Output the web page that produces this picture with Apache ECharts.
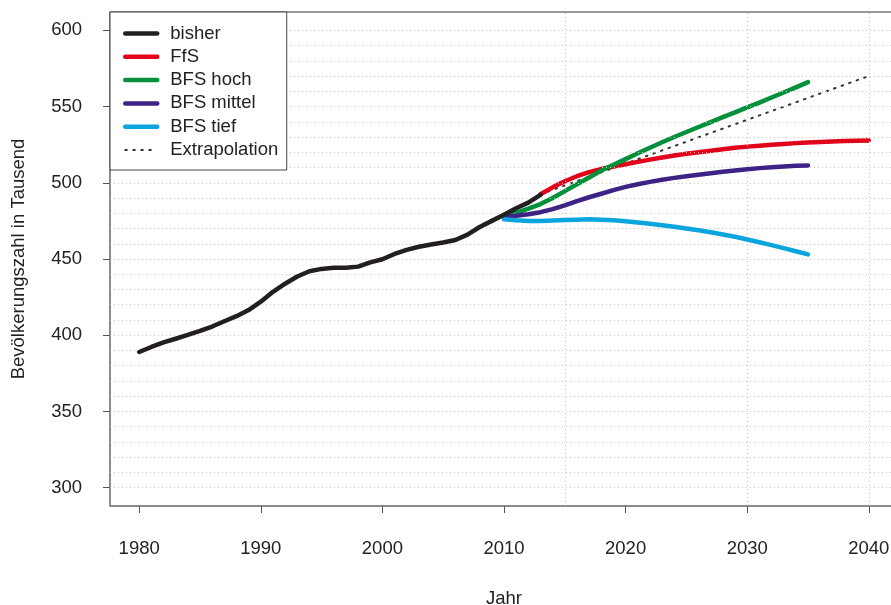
<!DOCTYPE html>
<html><head><meta charset="utf-8">
<script src="https://cdn.jsdelivr.net/npm/echarts@6/dist/echarts.min.js"></script>
<style>html,body{margin:0;padding:0;background:#fff}#c{width:891px;height:605px}</style>
</head><body><div id="c"></div>
<script>
// ---- data ----
const bisherYears = [1980,1981,1982,1983,1984,1985,1986,1987,1988,1989,1990,1991,1992,1993,1994,1995,1996,1997,1998,1999,2000,2001,2002,2003,2004,2005,2006,2007,2008,2009,2010,2011,2012,2013];
const bisherValues = [389,392.3,395.3,397.7,400.2,402.8,405.7,409.2,412.5,416.5,422,428.5,433.8,438.5,442,443.5,444.2,444.3,445,447.8,449.8,453.3,456,458,459.5,460.8,462.5,466,471,475,479,483.3,487,492];

const ffsYears = [2013,2014,2015,2016,2017,2018,2019,2020,2021,2022,2023,2024,2025,2026,2027,2028,2029,2030,2031,2032,2033,2034,2035,2036,2037,2038,2039,2040];
const ffsValues = [492.5,497,501,504.3,507,509,510.7,512.2,513.7,515.2,516.6,517.9,519,520,521,522,523,523.7,524.3,525,525.5,526,526.4,526.8,527.1,527.4,527.6,527.8];

const bfsYears = [2010,2011,2012,2013,2014,2015,2016,2017,2018,2019,2020,2021,2022,2023,2024,2025,2026,2027,2028,2029,2030,2031,2032,2033,2034,2035];
const hochValues = [478,480.3,483,486,490,494.5,499,503.5,508,511.8,515.5,519.3,523,526.6,530,533.3,536.6,539.8,543,546.2,549.4,552.6,555.9,559.2,562.6,566];
const mittelValues = [477.5,478.3,479.3,480.7,482.7,485.2,488,490.5,492.8,495.2,497.3,499,500.6,502,503.2,504.3,505.3,506.3,507.2,508.1,508.9,509.6,510.2,510.7,511.1,511.4];
const tiefValues = [476,475.4,475,475,475.2,475.5,475.8,476,475.8,475.4,474.8,474,473.1,472.1,471.1,470,468.8,467.5,466.1,464.6,462.8,461,459.1,457.1,455.1,453];

const extraYears = [2013,2040];
const extraValues = [492.5,570];

const xTickLabels = [1980,1990,2000,2010,2020,2030,2040];
const yTickLabels = [300,350,400,450,500,550,600];
const yGridValues = [300,310,320,330,340,350,360,370,380,390,400,410,420,430,440,450,460,470,480,490,500,510,520,530,540,550,560,570,580,590,600];
const xGridValues = [2015,2030,2040];

const names = ['bisher','FfS','BFS hoch','BFS mittel','BFS tief','Extrapolation'];
const colors = {bisher:'#231f20', FfS:'#e2001a', 'BFS hoch':'#00913a', 'BFS mittel':'#3e2286', 'BFS tief':'#0ba5de', Extrapolation:'#333333'};

function pairs(xs, ys){ return xs.map((x,i)=>[x, ys[i]]); }

const FONT = '"Liberation Sans", Arial, sans-serif';
const chart = echarts.init(document.getElementById('c'), null, {renderer:'canvas'});

function lineSeries(name, data, z){
  return {
    name, type:'line', data, showSymbol:false, symbol:'none', smooth:false, z,
    lineStyle:{color:colors[name], width:4.5, cap:'round', join:'round'},
    itemStyle:{color:colors[name]}, emphasis:{disabled:true}, animation:false
  };
}

const option = {
  animation:false,
  backgroundColor:'#ffffff',
  textStyle:{fontFamily:FONT},
  grid:{left:110, top:12, width:788, height:494, show:true, borderColor:'#333', borderWidth:1,
        backgroundColor:'transparent', containLabel:false, outerBoundsMode:'none'},
  xAxis:{
    type:'value', min:1977.6, max:2042.4,
    name:'Jahr', nameLocation:'middle', nameGap:83,
    nameTextStyle:{fontSize:18.5, color:'#222', fontFamily:FONT},
    axisLine:{show:true, lineStyle:{color:'#888', width:1.5}},
    axisTick:{show:true, length:7, customValues:xTickLabels, lineStyle:{color:'#555', width:1}},
    axisLabel:{customValues:xTickLabels, fontSize:18.5, color:'#222', margin:33, fontFamily:FONT,
               formatter:(v)=>String(v)},
    splitLine:{show:false}
  },
  yAxis:{
    type:'value', min:288, max:612,
    name:'Bevölkerungszahl in Tausend', nameLocation:'middle', nameGap:82,
    nameTextStyle:{fontSize:18.5, color:'#222', fontFamily:FONT},
    axisLine:{show:true, lineStyle:{color:'#888', width:1.5}},
    axisTick:{show:true, length:7, customValues:yTickLabels, lineStyle:{color:'#555', width:1}},
    axisLabel:{customValues:yTickLabels, fontSize:18.5, color:'#222', margin:28, fontFamily:FONT,
               padding:[5,0,0,0], formatter:(v)=>String(v)},
    splitLine:{show:false}
  },
  legend:{
    orient:'vertical', left:110, top:12,
    backgroundColor:'#ffffff', borderColor:'#444', borderWidth:1, borderRadius:0,
    padding:[11.5,8.5,10,13],
    itemWidth:32, itemHeight:12, itemGap:3.3,
    itemStyle:{opacity:0, borderWidth:0},
    lineStyle:{width:4.5, cap:'round'},
    textStyle:{fontSize:18.5, color:'#222', lineHeight:20, fontFamily:FONT, padding:[0,0,0,8]},
    data: names.map(n => n === 'Extrapolation'
      ? {name:n, lineStyle:{width:2, type:[1.6,6.4], cap:'round'}}
      : {name:n}),
    selectedMode:false, z:10
  },
  series:[
    {
      name:'grid', type:'line', data:[], silent:true, z:1,
      markLine:{
        silent:true, symbol:'none', animation:false,
        label:{show:false},
        data: yGridValues.map(v=>({yAxis:v, lineStyle:{color:'#cbc7b4', width:1, type:[1,3]}}))
          .concat(xGridValues.map(v=>({xAxis:v, lineStyle:{color:'#bdbdbd', width:1, type:[1,3]}})))
      }
    },
    {
      name:'Extrapolation', type:'line', data:pairs(extraYears, extraValues), showSymbol:false, symbol:'none', z:2,
      lineStyle:{color:colors.Extrapolation, width:2, type:[1.6,6.4], cap:'round'},
      itemStyle:{color:colors.Extrapolation}, emphasis:{disabled:true}
    },
    lineSeries('FfS', pairs(ffsYears, ffsValues), 3),
    lineSeries('BFS hoch', pairs(bfsYears, hochValues), 4),
    lineSeries('BFS mittel', pairs(bfsYears, mittelValues), 5),
    lineSeries('BFS tief', pairs(bfsYears, tiefValues), 6),
    lineSeries('bisher', pairs(bisherYears, bisherValues), 7)
  ]
};
chart.setOption(option);
</script>
</body></html>
